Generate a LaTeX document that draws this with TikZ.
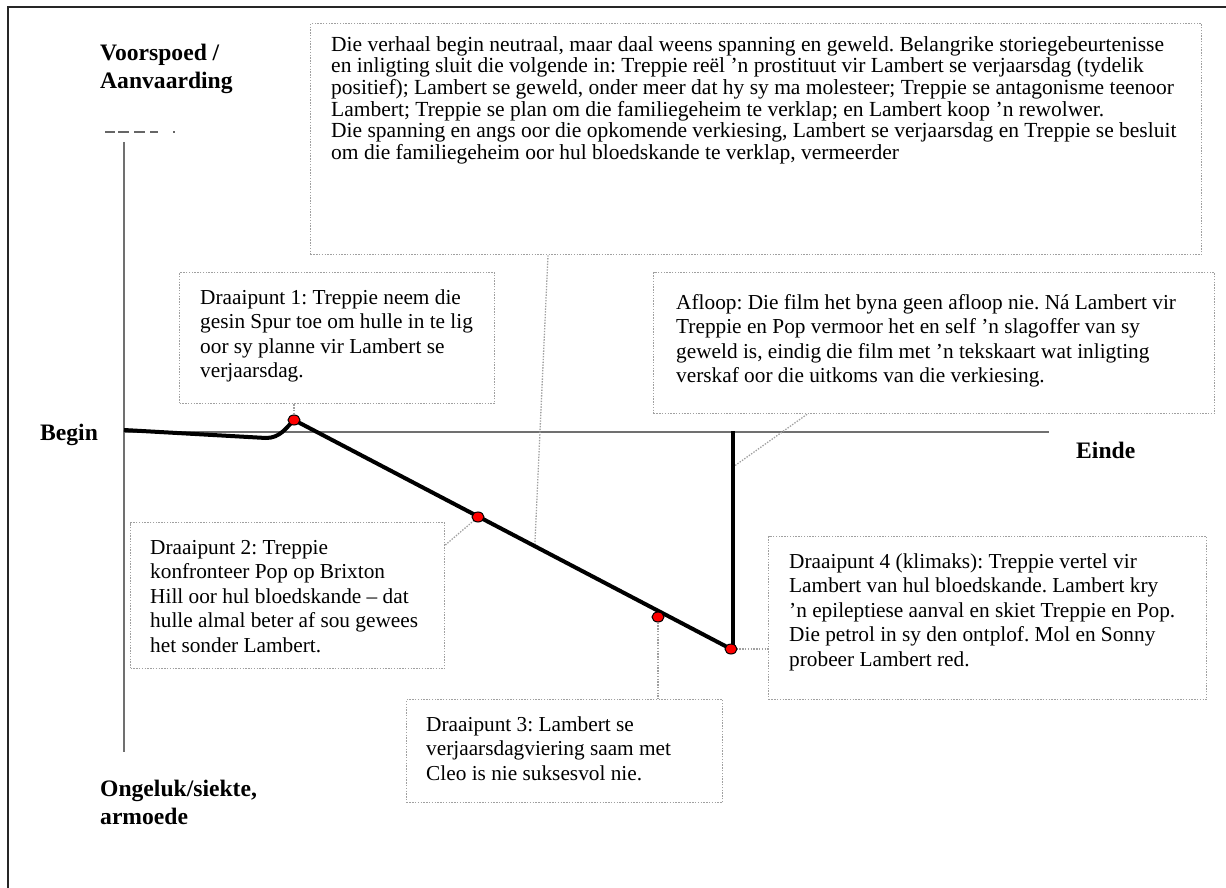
\documentclass[tikz,border=0pt]{standalone}
\usepackage{fontspec}
\setmainfont{Liberation Serif}
\usetikzlibrary{shapes.geometric,calc}
\definecolor{boxgray}{HTML}{A0A0A0}
\definecolor{axisgray}{HTML}{707070}
\frenchspacing
\begin{document}
\begin{tikzpicture}[x=1pt,y=-1pt,
  box/.style={draw=boxgray, line width=1.3pt, dash pattern=on 1.4pt off 1.4pt, fill=white, rectangle, inner sep=0pt, anchor=north west},
  txt/.style={anchor=north west, inner sep=0pt, align=left, font=\fontsize{21.3}{24.5}\selectfont},
  toptxt/.style={anchor=north west, inner sep=0pt, align=left, font=\fontsize{21.5}{21.6}\selectfont},
  lab/.style={inner sep=0pt, align=left, font=\fontsize{23.6}{28}\selectfont\bfseries},
  conn/.style={draw=boxgray, line width=1.3pt, dash pattern=on 1.4pt off 1.4pt},
  axisline/.style={draw=axisgray, line width=2pt},
  plotline/.style={draw=black, line width=4pt},
  dot/.style={ellipse, draw=black, line width=1pt, fill=red, minimum width=12pt, minimum height=10pt, inner sep=0pt}]
\useasboundingbox (0,0) rectangle (1226,888);
% frame
\draw[line width=2pt, black!85] (8,888) -- (8,7) -- (1226,7);
% clipped text fragments
\draw[line width=1.5pt, black!60] (105,132) -- (115,132) (118,132) -- (129,132) (134,132) -- (145,132) (150,132) -- (158,132) (173,132) -- (175,132);
% axes
\draw[axisline] (124,142) -- (124,752);
\draw[axisline] (124,432) -- (1049,432);
% labels
\node[lab, anchor=north west] (ltop) at (100,40.5) {\strut Voorspoed /\\Aanvaarding};
\node[lab, anchor=north west] (lbot) at (100,776.5) {\strut Ongeluk/siekte,\\armoede};
\node[lab, anchor=base west] (lbeg) at (40,440) {Begin};
\node[lab, anchor=base west] (lend) at (1076,458) {Einde};
% boxes
\node[box, minimum width=891pt, minimum height=231pt] (bt) at (310,23) {};
\node[box, minimum width=315pt, minimum height=131pt] (b1) at (179,272) {};
\node[box, minimum width=314pt, minimum height=146pt] (b2) at (130,522) {};
\node[box, minimum width=316pt, minimum height=103pt] (b3) at (406,699) {};
\node[box, minimum width=438pt, minimum height=163pt] (b4) at (768,536) {};
\node[box, minimum width=561pt, minimum height=141pt] (ba) at (653,272) {};
% texts
\node[toptxt] (tt) at (331,36) {\strut Die verhaal begin neutraal, maar daal weens spanning en geweld. Belangrike storiegebeurtenisse\\
en inligting sluit die volgende in: Treppie reël ’n prostituut vir Lambert se verjaarsdag (tydelik\\
positief); Lambert se geweld, onder meer dat hy sy ma molesteer; Treppie se antagonisme teenoor\\
Lambert; Treppie se plan om die familiegeheim te verklap; en Lambert koop ’n rewolwer.\\
Die spanning en angs oor die opkomende verkiesing, Lambert se verjaarsdag en Treppie se besluit\\
om die familiegeheim oor hul bloedskande te verklap, vermeerder};
\node[txt] (t1) at (200,287) {\strut Draaipunt 1: Treppie neem die\\gesin Spur toe om hulle in te lig\\oor sy planne vir Lambert se\\verjaarsdag.};
\node[txt] (t2) at (150,537) {\strut Draaipunt 2: Treppie\\konfronteer Pop op Brixton\\Hill oor hul bloedskande – dat\\hulle almal beter af sou gewees\\het sonder Lambert.};
\node[txt] (t3) at (426,714) {\strut Draaipunt 3: Lambert se\\verjaarsdagviering saam met\\Cleo is nie suksesvol nie.};
\node[txt] (t4) at (789,551) {\strut Draaipunt 4 (klimaks): Treppie vertel vir\\Lambert van hul bloedskande. Lambert kry\\’n epileptiese aanval en skiet Treppie en Pop.\\Die petrol in sy den ontplof. Mol en Sonny\\probeer Lambert red.};
\node[txt] (ta) at (676,292) {\strut Afloop: Die film het byna geen afloop nie. Ná Lambert vir\\Treppie en Pop vermoor het en self ’n slagoffer van sy\\geweld is, eindig die film met ’n tekskaart wat inligting\\verskaf oor die uitkoms van die verkiesing.};
% dot positions
\coordinate (p1) at (294,420);
\coordinate (p2) at (478,517);
\coordinate (p3) at (658,617);
\coordinate (p4) at (731,649);
\coordinate (cl) at ($(p1)!0.551!(p4)$);
\coordinate (cv) at (733,467);
% connectors
\draw[conn] (b1.south -| p1) -- (p1);
\draw[conn] ([yshift=-23pt]b2.north east) -- (p2);
\draw[conn] ([xshift=238pt]bt.south west) -- (cl);
\draw[conn] (p3) -- (b3.north -| p3);
\draw[conn] (p4) -- (p4 -| b4.west);
\draw[conn] ([xshift=154pt]ba.south west) -- (cv);
% plot line
\draw[plotline, line join=round] (124,430) -- (266,438) .. controls (280,438) and (286,428) .. (p1) -- (p4);
\draw[plotline] (733,649) -- (733,431);
% dots
\node[dot] (d1) at (p1) {};
\node[dot] (d2) at (p2) {};
\node[dot] (d3) at (p3) {};
\node[dot] (d4) at (p4) {};
\end{tikzpicture}
\end{document}
